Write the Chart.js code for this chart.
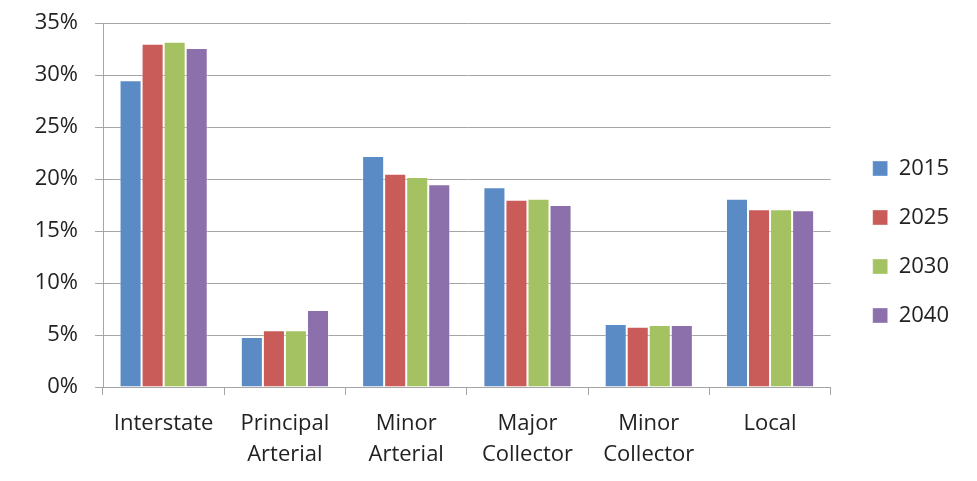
<!DOCTYPE html>
<html>
<head>
<meta charset="utf-8">
<script src="https://cdn.jsdelivr.net/npm/chart.js@4"></script>
<style>
  html, body { margin: 0; padding: 0; background: #fff; }
  #wrap { width: 977px; height: 481px; }
</style>
</head>
<body>
<div id="wrap"><canvas id="roadChart" width="977" height="481"></canvas></div>
<script>
'use strict';

// ********************* DATA *********************

let categories = [['Interstate'], ['Principal', 'Arterial'], ['Minor', 'Arterial'], ['Major', 'Collector'], ['Minor', 'Collector'], ['Local']];
let seriesNames = ['2015', '2025', '2030', '2040'];

let values2015 = [29.5, 4.8, 22.2, 19.2, 6.05, 18.1];
let values2025 = [33.0, 5.45, 20.5, 18.0, 5.8, 17.1];
let values2030 = [33.2, 5.45, 20.2, 18.1, 5.95, 17.1];
let values2040 = [32.6, 7.4, 19.5, 17.5, 5.95, 17.0];

let yTicks = [0, 5, 10, 15, 20, 25, 30, 35];

let seriesColors = ['#5B8BC5', '#C95C58', '#A5C262', '#8C70AC'];

// ********************* CHART *********************

let ctx = document.getElementById('roadChart');
let allValues = [values2015, values2025, values2030, values2040];

let datasets = [];
for (let i = 0; i < seriesNames.length; i++) {
  datasets.push({
    label: seriesNames[i],
    data: allValues[i],
    backgroundColor: seriesColors[i],
    borderColor: 'rgba(255,255,255,0.35)',
    borderWidth: 1,
    categoryPercentage: 0.727,
    barPercentage: 1.0
  });
}

let fontFamily = '"Open Sans", Lato, sans-serif';

// nudge the legend a little so it sits where the reference has it
let legendNudge = {
  id: 'legendNudge',
  afterLayout: function (chart) {
    let lg = chart.legend;
    lg.left += 15;
    lg.right += 15;
    lg.top -= 10;
    lg.bottom -= 10;
  }
};

new Chart(ctx, {
  type: 'bar',
  data: {
    labels: categories,
    datasets: datasets
  },
  plugins: [legendNudge],
  options: {
    responsive: false,
    animation: false,
    layout: {
      padding: { left: 0, right: 33, top: 23, bottom: 0 }
    },
    plugins: {
      tooltip: { enabled: false },
      legend: {
        position: 'right',
        labels: {
          boxWidth: 15,
          boxHeight: 15,
          padding: 27,
          color: '#222',
          font: { family: fontFamily, size: 22 }
        }
      }
    },
    scales: {
      x: {
        afterFit: function (axis) { axis.height = 94; },
        grid: {
          display: true,
          offset: true,
          drawOnChartArea: false,
          drawTicks: true,
          tickLength: 8,
          color: '#A6A6A6'
        },
        border: { color: '#A6A6A6' },
        ticks: {
          color: '#222',
          padding: 13,
          maxRotation: 0,
          autoSkip: false,
          font: { family: fontFamily, size: 22, lineHeight: 1.41 }
        }
      },
      y: {
        min: 0,
        max: 35,
        afterFit: function (axis) {
          axis.width = 103;
          axis.paddingTop = 0;
          axis.paddingBottom = 0;
        },
        afterBuildTicks: function (axis) {
          axis.ticks = yTicks.map(function (v) { return { value: v }; });
        },
        grid: {
          color: '#A6A6A6',
          tickLength: 8
        },
        border: { color: '#A6A6A6' },
        ticks: {
          color: '#222',
          padding: 17,
          font: { family: fontFamily, size: 22 },
          callback: function (v) { return v + '%'; }
        }
      }
    }
  }
});
</script>
</body>
</html>
